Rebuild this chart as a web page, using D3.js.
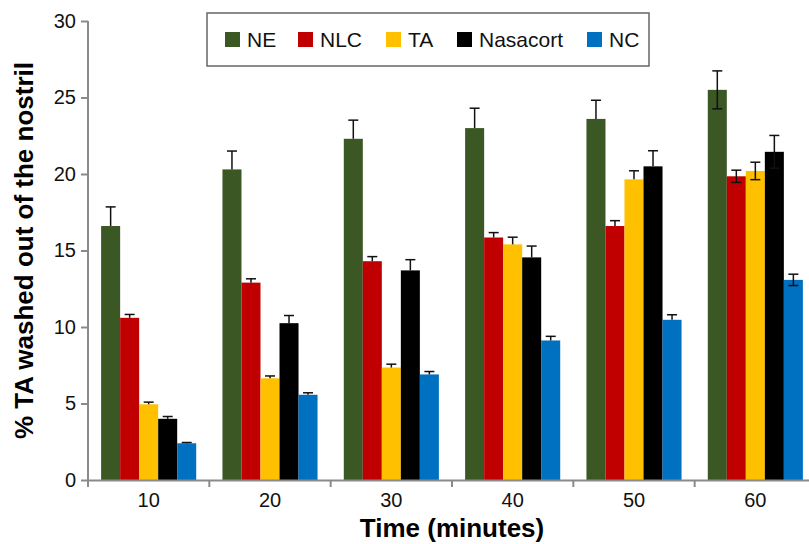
<!DOCTYPE html>
<html>
<head>
<meta charset="utf-8">
<script src="https://cdn.jsdelivr.net/npm/d3@7"></script>
<style>
  body { margin: 0; background: #fff; }
  text { font-family: Arial, "Liberation Sans", sans-serif; }
</style>
</head>
<body>
<div id="canvas"></div>
<script>
const categories = ["10", "20", "30", "40", "50", "60"];
const series = ["NE", "NLC", "TA", "Nasacort", "NC"];
const colors = ["#3a5724", "#c00000", "#ffc000", "#000000", "#0070c0"];

const NE = [16.6, 20.3, 22.3, 23.0, 23.6, 25.5];
const NLC = [10.6, 12.9, 14.3, 15.85, 16.6, 19.85];
const TA = [4.95, 6.65, 7.35, 15.4, 19.65, 20.2];
const Nasacort = [4.0, 10.25, 13.7, 14.55, 20.5, 21.45];
const NC = [2.4, 5.57, 6.9, 9.12, 10.47, 13.08];

const NEerr = [1.25, 1.2, 1.22, 1.3, 1.22, 1.24];
const NLCerr = [0.22, 0.25, 0.3, 0.32, 0.35, 0.4];
const TAerr = [0.14, 0.15, 0.22, 0.47, 0.56, 0.57];
const Nasacorterr = [0.15, 0.5, 0.7, 0.74, 1.02, 1.07];
const NCerr = [0.05, 0.13, 0.19, 0.27, 0.33, 0.37];

// lower whiskers are only visible in the last group
const lowerShown = [false, false, false, false, false, true];

const yTicks = [0, 5, 10, 15, 20, 25, 30];

const values = [NE, NLC, TA, Nasacort, NC];
const errors = [NEerr, NLCerr, TAerr, Nasacorterr, NCerr];

const width = 809;
const height = 544;
const margin = { top: 21, left: 88, bottom: 64, right: -7 };
const iwidth = width - margin.left - margin.right;
const iheight = height - margin.top - margin.bottom;

const svg = d3.select("#canvas").append("svg")
  .attr("width", width)
  .attr("height", height);

const g = svg.append("g").attr("transform", `translate(${margin.left},${margin.top})`);

const x = d3.scaleBand().domain(categories).range([0, iwidth]);
const x1 = d3.scaleBand().domain(series).range([0, x.bandwidth()]).paddingOuter(0.69);
const y = d3.scaleLinear().domain([0, 30]).range([iheight, 0]);

const rows = [];
categories.forEach((c, i) => {
  series.forEach((s, j) => {
    rows.push({ cat: c, ser: s, color: colors[j], v: values[j][i], e: errors[j][i], low: lowerShown[i] });
  });
});

// bars
g.selectAll("rect.bar").data(rows).enter().append("rect")
  .attr("class", "bar")
  .attr("x", d => x(d.cat) + x1(d.ser))
  .attr("width", x1.bandwidth())
  .attr("y", d => y(d.v))
  .attr("height", d => y(0) - y(d.v))
  .style("fill", d => d.color);

// error bars
const eb = g.selectAll("g.err").data(rows).enter().append("g").attr("class", "err")
  .attr("transform", d => `translate(${x(d.cat) + x1(d.ser) + x1.bandwidth() / 2},0)`)
  .style("stroke", "#111")
  .style("stroke-width", 1.5);
eb.append("line")
  .attr("y1", d => y(d.low ? d.v - d.e : d.v))
  .attr("y2", d => y(d.v + d.e));
eb.append("line")
  .attr("x1", -5).attr("x2", 5)
  .attr("y1", d => y(d.v + d.e)).attr("y2", d => y(d.v + d.e));
eb.filter(d => d.low).append("line")
  .attr("x1", -5).attr("x2", 5)
  .attr("y1", d => y(d.v - d.e)).attr("y2", d => y(d.v - d.e));

// y axis
const yAxis = g.append("g")
  .call(d3.axisLeft(y).tickValues(yTicks).tickSize(7).tickSizeOuter(0).tickPadding(5));
yAxis.select(".domain").attr("d", `M0,0V${iheight + 7}`);

// x axis
const xAxis = g.append("g")
  .attr("transform", `translate(0,${iheight})`)
  .call(d3.axisBottom(x).tickSize(0).tickSizeOuter(0).tickPadding(13));
xAxis.selectAll(".bound").data(categories.slice(1)).enter().append("line")
  .attr("class", "bound")
  .attr("x1", d => x(d)).attr("x2", d => x(d))
  .attr("y1", 0).attr("y2", 7);

svg.selectAll(".domain, .tick line, .bound")
  .style("stroke", "#8a8a8a")
  .style("stroke-width", 2);
svg.selectAll(".tick text")
  .style("font-size", "20px")
  .style("fill", "#111");

// axis titles
svg.append("text")
  .attr("x", margin.left + x.step() * 3)
  .attr("y", 537)
  .attr("text-anchor", "middle")
  .style("font-size", "26px")
  .style("font-weight", "bold")
  .text("Time (minutes)");

svg.append("text")
  .attr("transform", `translate(33,${margin.top + iheight / 2}) rotate(-90)`)
  .attr("text-anchor", "middle")
  .style("font-size", "26px")
  .style("font-weight", "bold")
  .text("% TA washed out of the nostril");

// legend
const legendX = [225, 298, 386, 457, 587];
const legend = svg.append("g");
legend.append("rect")
  .attr("x", 207).attr("y", 13)
  .attr("width", 442).attr("height", 53)
  .style("fill", "#fff")
  .style("stroke", "#666")
  .style("stroke-width", 1.5);
const items = legend.selectAll("g.item").data(series).enter().append("g")
  .attr("class", "item")
  .attr("transform", (d, i) => `translate(${legendX[i]},32)`);
items.append("rect")
  .attr("width", 15).attr("height", 15)
  .style("fill", (d, i) => colors[i]);
items.append("text")
  .attr("x", 22).attr("y", 15)
  .style("font-size", "21px")
  .style("fill", "#111")
  .text(d => d);
</script>
</body>
</html>
